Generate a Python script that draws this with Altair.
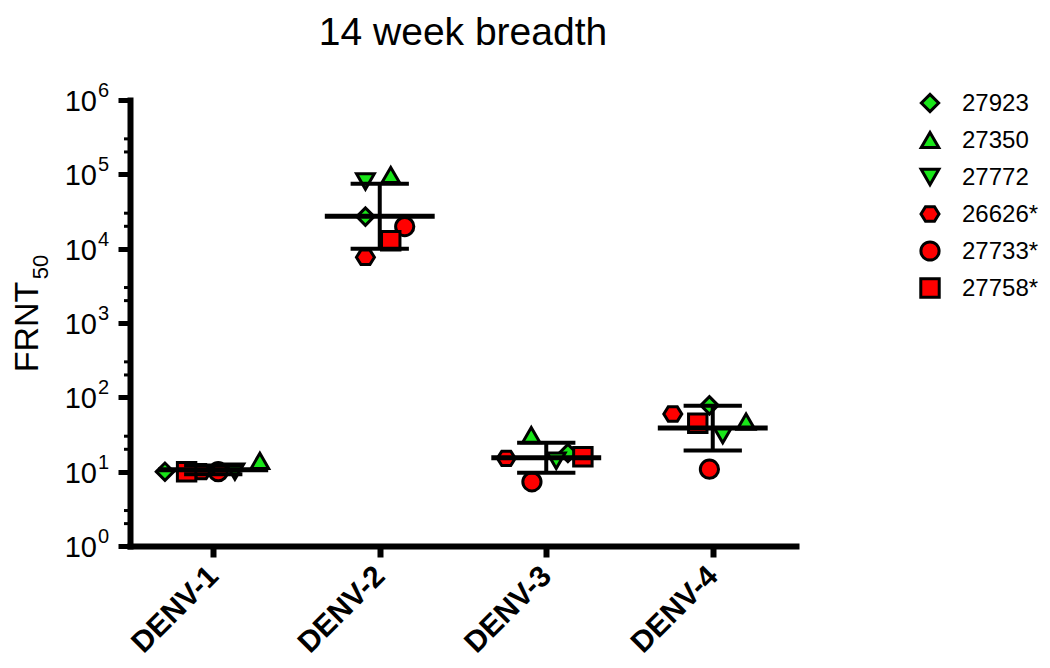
import altair as alt
import numpy as np
import pandas as pd

viruses = ["DENV-1", "DENV-2", "DENV-3", "DENV-4"]
subjects = ["27923", "27350", "27772", "26626*", "27733*", "27758*"]
shapes = ["diamond", "triangle-up", "triangle-down",
          "M-1,0L-0.5,-0.8L0.5,-0.8L1,0L0.5,0.8L-0.5,0.8Z", "circle", "square"]
fills = ["#19E619", "#19E619", "#19E619", "#FF0000", "#FF0000", "#FF0000"]
sizes = [300, 340, 340, 340, 270, 320]

# FRNT50 titres per subject (order of `subjects`)
denv1 = [10, 14, 10, 10, 10, 10]
denv2 = [27000, 98000, 80000, 7650, 19800, 12800]
denv3 = [17.8, 31, 14, 15.1, 7.3, 15.9]
denv4 = [78, 47, 31, 59.7, 10.8, 44.7]
# horizontal scatter of each point inside its column (category units)
jit1 = [-0.29, 0.28, 0.13, -0.07, 0.03, -0.16]
jit2 = [-0.086, 0.066, -0.086, -0.086, 0.15, 0.066]
jit3 = [0.13, -0.09, 0.06, -0.24, -0.086, 0.22]
jit4 = [-0.02, 0.2, 0.06, -0.24, -0.02, -0.09]

ytick_vals = [1, 10, 100, 1000, 10000, 100000, 1000000]
ytick_exps = ["0", "1", "2", "3", "4", "5", "6"]

values = [denv1, denv2, denv3, denv4]
jitters = [jit1, jit2, jit3, jit4]

rows = []
for i, (vals, jits) in enumerate(zip(values, jitters)):
    for s, v, j in zip(subjects, vals, jits):
        rows.append({"virus": viruses[i], "subject": s, "value": v, "pos": i + 1 + j})
pts = pd.DataFrame(rows)

summ = []
for i, vals in enumerate(values):
    lg = np.log10(vals)
    m, sd = lg.mean(), lg.std(ddof=1)
    summ.append({"pos": i + 1, "m1": i + 1 - 0.33, "m2": i + 1 + 0.33,
                 "c1": i + 1 - 0.175, "c2": i + 1 + 0.175,
                 "gm": 10 ** m, "lo": 10 ** (m - sd), "hi": 10 ** (m + sd)})
summ = pd.DataFrame(summ)
caps = pd.concat([summ.assign(cy=summ["lo"]), summ.assign(cy=summ["hi"])])

FONT = "Liberation Sans"
xscale = alt.Scale(domain=[0.5, 4.5], nice=False, zero=False)
yscale = alt.Scale(type="log", domain=[1, 1000000], nice=False)

xaxis = alt.Axis(values=[1, 2, 3, 4],
                 labelExpr="['','DENV-1','DENV-2','DENV-3','DENV-4'][datum.value]",
                 labelAngle=-45, labelAlign="right", labelBaseline="middle",
                 labelFontSize=30, labelFontWeight="bold", labelFont=FONT,
                 labelColor="black", labelPadding=14, tickSize=11, tickWidth=6,
                 tickColor="black", domainWidth=6, domainColor="black",
                 domainCap="square", grid=False, title=None)
yaxis = alt.Axis(values=ytick_vals, labels=False, tickSize=12, tickWidth=5,
                 tickColor="black", domainWidth=6, domainColor="black",
                 domainCap="square", grid=False, title=None)

shape_enc = alt.Shape("subject:N", scale=alt.Scale(domain=subjects, range=shapes),
                      legend=None)
fill_enc = alt.Fill("subject:N", scale=alt.Scale(domain=subjects, range=fills),
                    legend=None)
size_enc = alt.Size("subject:N", scale=alt.Scale(domain=subjects, range=sizes),
                    legend=None)

points = alt.Chart(pts).mark_point(filled=True, opacity=1, stroke="black",
                                   strokeWidth=3).encode(
    x=alt.X("pos:Q", scale=xscale, axis=xaxis),
    y=alt.Y("value:Q", scale=yscale, axis=yaxis),
    shape=shape_enc, fill=fill_enc, size=size_enc,
)

mean_line = alt.Chart(summ).mark_rule(color="black", strokeWidth=5).encode(
    x="m1:Q", x2="m2:Q", y="gm:Q")
vline = alt.Chart(summ).mark_rule(color="black", strokeWidth=4).encode(
    x="pos:Q", y="lo:Q", y2="hi:Q")
cap_lines = alt.Chart(caps).mark_rule(color="black", strokeWidth=4).encode(
    x="c1:Q", x2="c2:Q", y="cy:Q")

minor = pd.DataFrame({"v": [m * 10 ** k for k in range(6) for m in (2, 3)]})
minor_ticks = alt.Chart(minor).mark_rule(color="black", strokeWidth=3).encode(
    x=alt.value(-6), x2=alt.value(0), y="v:Q")

ylab = pd.DataFrame({"v": ytick_vals, "e": ytick_exps, "b": ["10"] * 7})
ybase = alt.Chart(ylab).mark_text(align="right", baseline="middle", fontSize=29,
                                  font=FONT, color="black", dy=2).encode(
    x=alt.value(-33), y="v:Q", text="b:N")
yexp = alt.Chart(ylab).mark_text(align="left", baseline="middle", fontSize=20,
                                 font=FONT, color="black", dy=-9).encode(
    x=alt.value(-32), y="v:Q", text="e:N")

t1 = pd.DataFrame({"t": ["FRNT"]})
t2 = pd.DataFrame({"t": ["50"]})
t3 = pd.DataFrame({"t": ["14 week breadth"]})
ytitle = alt.Chart(t1).mark_text(angle=270, align="center", baseline="middle",
                                 fontSize=34, font=FONT, color="black").encode(
    x=alt.value(-102), y=alt.value(227), text="t:N")
ysub = alt.Chart(t2).mark_text(angle=270, align="center", baseline="middle",
                               fontSize=22, font=FONT, color="black").encode(
    x=alt.value(-89), y=alt.value(167), text="t:N")
title = alt.Chart(t3).mark_text(align="center", baseline="alphabetic",
                                fontSize=39, font=FONT, color="black").encode(
    x=alt.value(333), y=alt.value(-55), text="t:N")

main = alt.layer(points, mean_line, vline, cap_lines, minor_ticks, ybase, yexp,
                 ytitle, ysub, title)

# hand-drawn legend (one row per subject)
legdf = pd.DataFrame({"subject": subjects})
ley = alt.Y("subject:N", sort=subjects,
            scale=alt.Scale(domain=subjects, range=[3, 188], padding=0), axis=None)
leg_pts = alt.Chart(legdf).mark_point(filled=True, opacity=1, stroke="black",
                                      strokeWidth=3).encode(
    x=alt.value(800), y=ley, shape=shape_enc, fill=fill_enc, size=size_enc)
leg_txt = alt.Chart(legdf).mark_text(align="left", baseline="middle", fontSize=24,
                                     font=FONT, color="black", dy=1).encode(
    x=alt.value(832), y=ley, text="subject:N")
legend = alt.layer(leg_pts, leg_txt)

chart = alt.layer(main, legend).resolve_scale(y="independent").properties(
    width=666, height=446,
    autosize=alt.AutoSizeParams(type="none"),
    padding={"left": 122, "top": 92, "right": 246, "bottom": 114},
).configure_view(stroke=None)

chart.save("out.html", embed_options={"renderer": "svg", "actions": False})
